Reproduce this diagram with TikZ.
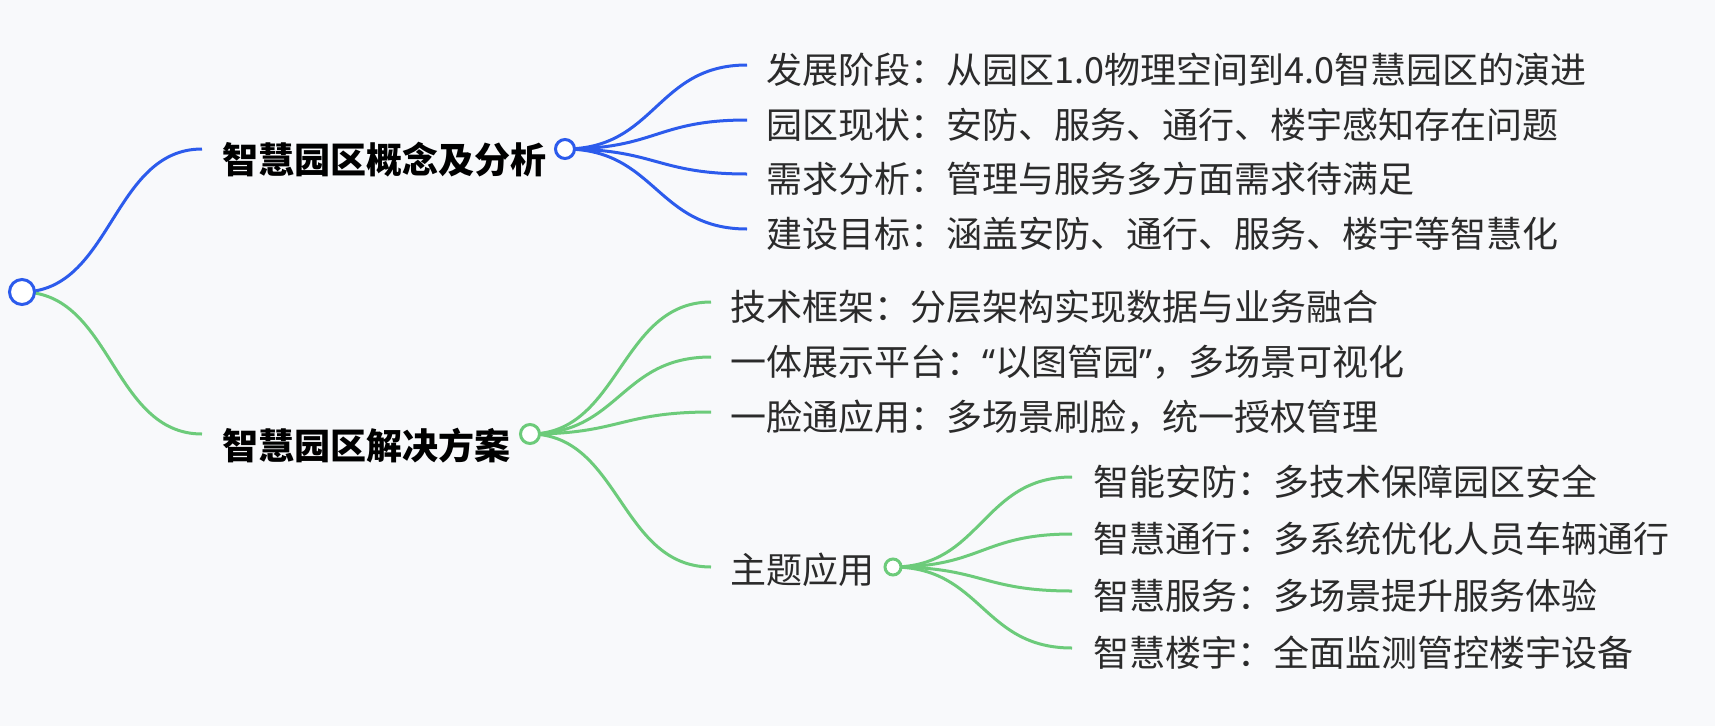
\documentclass[tikz,border=0pt]{standalone}
\usepackage{fontspec}
\setmainfont{Noto Sans CJK SC}
\newfontfamily\quotefont{Noto Sans}
\definecolor{bg}{HTML}{F8F9FB}
\definecolor{cblue}{HTML}{2C5BEC}
\definecolor{cgreen}{HTML}{6CCB7A}
\definecolor{txt}{HTML}{2B2B2B}
\begin{document}
\begin{tikzpicture}[x=1pt,y=-1pt,
  lbl/.style={anchor=base west, inner sep=0pt, font=\fontsize{36}{40}\selectfont, text=txt},
  blbl/.style={anchor=base west, inner sep=0pt, font=\fontsize{36}{40}\selectfont\bfseries, text=black},
  dot/.style={circle, draw, line width=3pt, fill=white, inner sep=0pt},
  link/.style={line width=3pt}]
\fill[bg] (0,0) rectangle (1715,726);
\useasboundingbox (0,0) rectangle (1715,726);

% coordinates of circles and link ends
\coordinate (r) at (22,292);
\coordinate (b) at (565,149);
\coordinate (g) at (530,434);
\coordinate (s) at (893,567);
\coordinate (eb) at (202,149);
\coordinate (eg) at (202,434);
\coordinate (b1) at (747,65);
\coordinate (b2) at (747,120);
\coordinate (b3) at (747,174);
\coordinate (b4) at (747,229);
\coordinate (g1) at (711,302);
\coordinate (g2) at (711,357);
\coordinate (g3) at (711,412);
\coordinate (g4) at (711,567);
\coordinate (s1) at (1072,477);
\coordinate (s2) at (1072,534);
\coordinate (s3) at (1072,591);
\coordinate (s4) at (1072,648);

% links
\draw[link,cblue] (r) .. controls (112,292) and (112,149) .. (eb);
\draw[link,cgreen] (r) .. controls (112,292) and (112,434) .. (eg);
\foreach \t/\y in {b1/65,b2/120,b3/174,b4/229}
  \draw[link,cblue] (b) .. controls (656,149) and (656,\y) .. (\t);
\foreach \t/\y in {g1/302,g2/357,g3/412,g4/567}
  \draw[link,cgreen] (g) .. controls (620,434) and (620,\y) .. (\t);
\foreach \t/\y in {s1/477,s2/534,s3/591,s4/648}
  \draw[link,cgreen] (s) .. controls (982,567) and (982,\y) .. (\t);

% circles
\node[dot, draw=cblue, minimum size=25pt] (root) at (r) {};
\node[dot, draw=cblue, minimum size=19pt] (nb) at (b) {};
\node[dot, draw=cgreen, minimum size=19pt] (ng) at (g) {};
\node[dot, draw=cgreen, minimum size=16pt] (ns) at (s) {};

% texts
\node[blbl] (tb) at (222,173) {智慧园区概念及分析};
\node[blbl] (tg) at (222,459) {智慧园区解决方案};
\node[lbl] (tb1) at (766,83) {发展阶段：从园区1.0物理空间到4.0智慧园区的演进};
\node[lbl] (tb2) at (766,138) {园区现状：安防、服务、通行、楼宇感知存在问题};
\node[lbl] (tb3) at (766,192) {需求分析：管理与服务多方面需求待满足};
\node[lbl] (tb4) at (766,247) {建设目标：涵盖安防、通行、服务、楼宇等智慧化};
\node[lbl] (tg1) at (730,320) {技术框架：分层架构实现数据与业务融合};
\node[lbl] (tg2) at (730,375) {一体展示平台：{\quotefont“}以图管园{\quotefont”}，多场景可视化};
\node[lbl] (tg3) at (730,430) {一脸通应用：多场景刷脸，统一授权管理};
\node[lbl] (tg4) at (730,583) {主题应用};
\node[lbl] (ts1) at (1093,495) {智能安防：多技术保障园区安全};
\node[lbl] (ts2) at (1093,552) {智慧通行：多系统优化人员车辆通行};
\node[lbl] (ts3) at (1093,609) {智慧服务：多场景提升服务体验};
\node[lbl] (ts4) at (1093,666) {智慧楼宇：全面监测管控楼宇设备};
\end{tikzpicture}
\end{document}
